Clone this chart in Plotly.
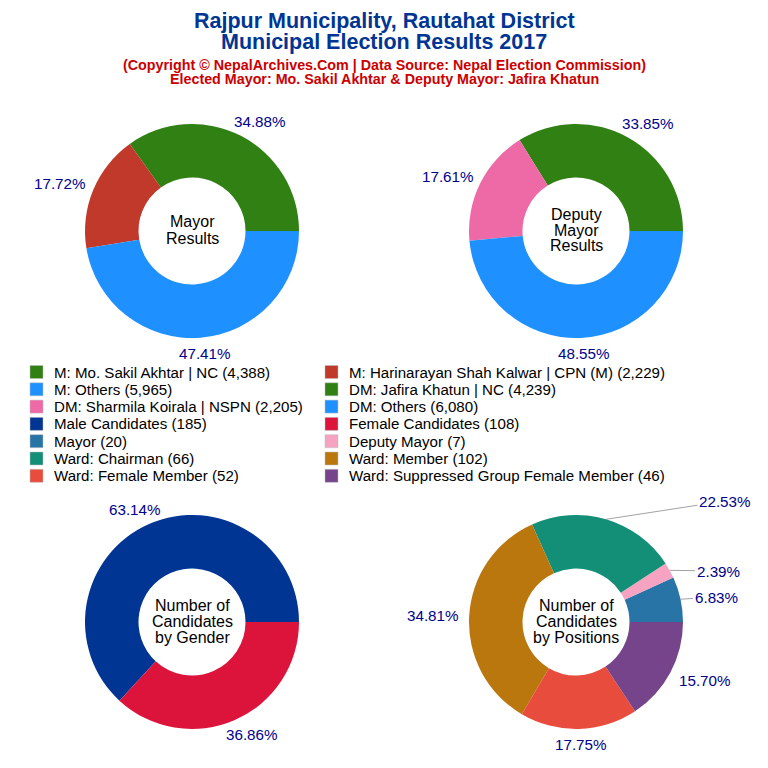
import math
import plotly.graph_objects as go

# values
mayor_labels = ["M: Mo. Sakil Akhtar | NC (4,388)", "M: Harinarayan Shah Kalwar | CPN (M) (2,229)", "M: Others (5,965)"]
mayor_values = [4388, 2229, 5965]
mayor_colors = ["#308014", "#C0392B", "#1E90FF"]

deputy_labels = ["DM: Jafira Khatun | NC (4,239)", "DM: Sharmila Koirala | NSPN (2,205)", "DM: Others (6,080)"]
deputy_values = [4239, 2205, 6080]
deputy_colors = ["#308014", "#EE6AA7", "#1E90FF"]

gender_labels = ["Male Candidates (185)", "Female Candidates (108)"]
gender_values = [185, 108]
gender_colors = ["#003594", "#DC143C"]

position_labels = ["Mayor (20)", "Deputy Mayor (7)", "Ward: Chairman (66)", "Ward: Member (102)",
                   "Ward: Female Member (52)", "Ward: Suppressed Group Female Member (46)"]
position_values = [20, 7, 66, 102, 52, 46]
position_colors = ["#2874A6", "#F5A3C0", "#148F77", "#B9770E", "#E74C3C", "#76448A"]

# labels pushed away from their slice, joined back to it with a thin line
moved_labels = {"Mayor (20)": (140, -25), "Deputy Mayor (7)": (142, -51), "Ward: Chairman (66)": (149, -121)}

# the page has an 8px body margin, so work in window pixels and convert
SIZE = 752
OFFSET = 8
RADIUS = 107
FONT = "Liberation Sans"
LABEL_BLUE = "#00008B"


def px_x(x):
    return (x - OFFSET) / SIZE


def px_y(y):
    return 1 - (y - OFFSET) / SIZE


def note(text, x, y, size=16, color="black", bold=False, anchor="center"):
    if bold:
        text = "<b>" + text + "</b>"
    return dict(text=text, x=px_x(x), y=px_y(y), xref="paper", yref="paper", showarrow=False,
                font=dict(size=size, color=color, family=FONT), xanchor=anchor, yanchor="middle")


annotations = []
shapes = []


def donut(labels, values, colors, cx, cy, center_lines):
    total = sum(values)
    # plotly ends the first slice at the rotation angle when going counterclockwise
    rotation = 90 - 360 * values[0] / total
    fig.add_trace(go.Pie(labels=labels, values=values, marker=dict(colors=colors),
                         domain=dict(x=[px_x(cx - RADIUS), px_x(cx + RADIUS)],
                                     y=[px_y(cy + RADIUS), px_y(cy - RADIUS)]),
                         hole=0.5, sort=False, direction="counterclockwise", rotation=rotation,
                         textinfo="none", showlegend=False))
    # percent labels around the ring
    done = 0
    for label, value in zip(labels, values):
        mid = math.radians(360 * (done + value / 2) / total)
        done += value
        text = f"{value / total:.2%}"
        ca, sa = math.cos(mid), math.sin(mid)
        if label in moved_labels:
            dx, dy = moved_labels[label]
            ex, ey = RADIUS * ca, -RADIUS * sa
            annotations.append(dict(text=text, x=px_x(cx + ex), y=px_y(cy + ey), xref="paper", yref="paper",
                                    ax=dx - ex, ay=dy - ey, showarrow=True, arrowhead=0, arrowwidth=0.8,
                                    arrowcolor="#8A8A8A", standoff=0,
                                    font=dict(size=15.2, color=LABEL_BLUE, family=FONT)))
        else:
            dx = (RADIUS + 12.5 + 25.5) * ca + 1.5
            dy = -(RADIUS + 8 + 8) * sa
            annotations.append(note(text, cx + dx, cy + dy, 15.2, LABEL_BLUE))
    # text in the hole, tighter than a normal annotation line height
    top = cy - 1 - 16 * (len(center_lines) - 1) / 2
    for i, line in enumerate(center_lines):
        annotations.append(note(line, cx, top + 16 * i))


fig = go.Figure()
donut(mayor_labels, mayor_values, mayor_colors, 192, 231, ["Mayor", "Results"])
donut(deputy_labels, deputy_values, deputy_colors, 576, 231, ["Deputy", "Mayor", "Results"])
donut(gender_labels, gender_values, gender_colors, 192, 622, ["Number of", "Candidates", "by Gender"])
donut(position_labels, position_values, position_colors, 576, 622, ["Number of", "Candidates", "by Positions"])

annotations.append(note("Rajpur Municipality, Rautahat District", 384, 21, 21.5, "#003594", True))
annotations.append(note("Municipal Election Results 2017", 384, 42, 21.5, "#003594", True))
annotations.append(note("(Copyright © NepalArchives.Com | Data Source: Nepal Election Commission)", 384, 65, 14.3, "#CC0000", True))
annotations.append(note("Elected Mayor: Mo. Sakil Akhtar & Deputy Mayor: Jafira Khatun", 384, 79, 14.3, "#CC0000", True))

# legend by hand: the built-in one cannot get rows this tight
legend_labels = mayor_labels + deputy_labels + gender_labels + position_labels
legend_colors = mayor_colors + deputy_colors + gender_colors + position_colors
for i, (label, color) in enumerate(zip(legend_labels, legend_colors)):
    col, row = i % 2, i // 2
    x0 = 30 + 295 * col
    y0 = 372 + 17.3 * row
    shapes.append(dict(type="rect", xref="paper", yref="paper",
                       x0=px_x(x0), x1=px_x(x0 + 13), y0=px_y(y0 + 6.5), y1=px_y(y0 - 6.5),
                       fillcolor=color, line=dict(color="#BDBDBD", width=0.5)))
    annotations.append(note(label, x0 + 22, y0, 15.1, anchor="left"))

fig.update_layout(
    width=SIZE, height=SIZE, margin=dict(l=0, r=0, t=0, b=0),
    paper_bgcolor="white", font=dict(family=FONT),
    annotations=annotations, shapes=shapes,
)

fig.write_html("out.html")
